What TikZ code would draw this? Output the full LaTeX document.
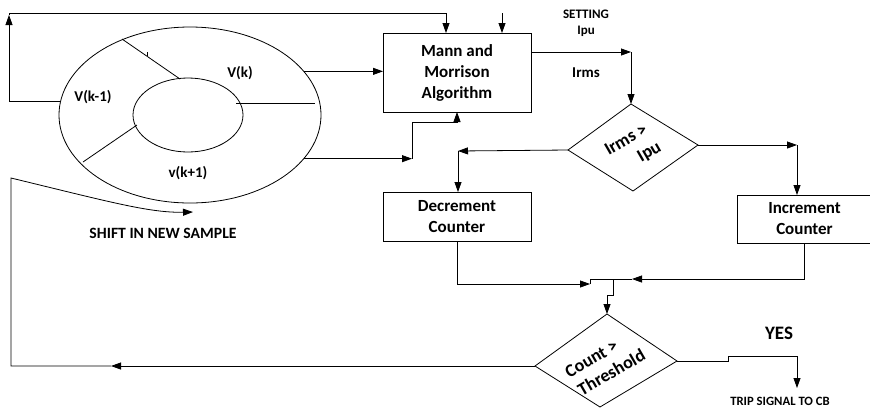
\documentclass[tikz,border=0pt]{standalone}
\usepackage{fontspec}
\setmainfont{Carlito}
\usetikzlibrary{arrows.meta,shapes.geometric}
\begin{document}
\begin{tikzpicture}[x=1pt,y=-1pt,
  line width=0.8pt,
  >={Triangle[length=10pt,width=7pt]},
  box/.style={draw,rectangle,inner sep=0pt,outer sep=0pt,align=center,
    font=\fontsize{17}{21}\selectfont\bfseries},
  ring/.style={draw,ellipse,inner sep=0pt,outer sep=0pt},
  lbl/.style={inner sep=0pt,align=center,font=\bfseries},
  dtext/.style={inner sep=0pt,rotate=30,align=center,
    font=\fontsize{18}{22}\selectfont\bfseries}]
\useasboundingbox (0,0) rectangle (870,408);

% sample buffer ring
\node[ring,minimum width=262pt,minimum height=176pt] (ring) at (190,115) {};
\node[ring,minimum width=110pt,minimum height=74pt] (hub) at (188,115) {};
\draw (122,39) -- (180,79);
\draw (147,56) -- (147,52);
\draw (137,125) -- (83,162);
\draw (236,103) -- (315,103);
\node[lbl,font=\fontsize{15}{18}\selectfont\bfseries] (vkm) at (93,97) {V(k-1)};
\node[lbl,font=\fontsize{15}{18}\selectfont\bfseries] (vk) at (240,73) {V(k)};
\node[lbl,font=\fontsize{15}{18}\selectfont\bfseries] (vkp) at (188,173) {v(k+1)};

% blocks
\node[box,minimum width=148pt,minimum height=79pt] (mann) at (457,72.5) {Mann and\\Morrison\\Algorithm};
\node[box,minimum width=148pt,minimum height=49pt] (dec) at (457,216.5) {Decrement\\Counter};
\node[box,minimum width=135pt,minimum height=48pt] (inc) at (804.5,219) {Increment\\Counter};

% decision: Irms > Ipu
\coordinate (d1t) at (631,104);
\coordinate (d1r) at (698,145);
\coordinate (d1b) at (633,191);
\coordinate (d1l) at (568,150);
\draw (d1t) -- (d1r) -- (d1b) -- (d1l) -- cycle;
\node[dtext] (d1x) at (632,150) {Irms >\\\hspace*{28pt}Ipu};

% decision: Count > Threshold
\coordinate (d2t) at (607,314);
\coordinate (d2r) at (677,361);
\coordinate (d2b) at (600,407);
\coordinate (d2l) at (535,366);
\draw (d2t) -- (d2r) -- (d2b) -- (d2l) -- cycle;
\node[dtext] (d2x) at (606,363) {Count >\hspace*{21pt}\\Threshold};

% labels
\node[lbl,font=\fontsize{13}{16}\selectfont\bfseries] (set) at (586,23) {SETTING\\Ipu};
\node[lbl,font=\fontsize{15}{18}\selectfont\bfseries] (irms) at (586,73) {Irms};
\node[lbl,font=\fontsize{19}{22}\selectfont\bfseries] (yes) at (779,333) {YES};
\node[lbl,font=\fontsize{12.7}{14}\selectfont\bfseries] (trip) at (780,401) {TRIP SIGNAL TO CB};
\node[lbl,font=\fontsize{15.7}{18}\selectfont\bfseries] (shift) at (163,233) {SHIFT IN NEW SAMPLE};

% routing points
\coordinate (fbTL) at (9,13);
\coordinate (fbTR) at (446,13);
\coordinate (inTop) at (502,13);
\coordinate (j1) at (412,158);
\coordinate (j2) at (457,122);
\coordinate (c1) at (631,52);
\coordinate (c2) at (458,151);
\coordinate (c3) at (797,145);
\coordinate (s1) at (590,284);
\coordinate (m1) at (613,279);
\coordinate (t1) at (632,279);
\coordinate (m2) at (607,295);
\coordinate (b1) at (111,366);
\coordinate (b2) at (11,366);
\coordinate (b3) at (11,178);
\coordinate (sNew) at (193,212);
\coordinate (y1) at (728,356);
\coordinate (y2) at (797,388);

% connectors
\draw[->] (ring.174) -| (9,15);
\draw[->] (9,15) -- (fbTL) -- (fbTR) -- (fbTR |- mann.north);
\draw[->] (inTop) -- (inTop |- mann.north);
\draw[->] (ring.21) -- (ring.21 -| mann.west);
\draw[->] (ring.-21) -- (ring.-21 -| j1);
\draw[->] (ring.-21 -| j1) |- (j2) -- (mann.south);
\draw[->] (mann.east |- c1) -- (c1);
\draw[->] (c1) -- (d1t);
\draw[->] (d1l) -- (c2);
\draw[->] (c2) -- (c2 |- dec.north);
\draw[->] (d1r) -- (c3);
\draw[->] (c3) -- (c3 |- inc.north);
\draw[->] (dec.south) |- (s1);
\draw (s1) |- (m1);
\draw[->] (inc.south) |- (t1);
\draw (t1) -- (m1);
\draw[->] (m1) |- (m2) -- (d2t);
\draw[->] (d2l) -- (b1);
\draw[->] (b1) -- (b2) -- (b3) .. controls (110,202) and (150,213) .. (sNew);
\draw[->] (d2r) -- (d2r -| y1) -- (y1) -- (y1 -| y2) -- (y2);
\end{tikzpicture}
\end{document}
